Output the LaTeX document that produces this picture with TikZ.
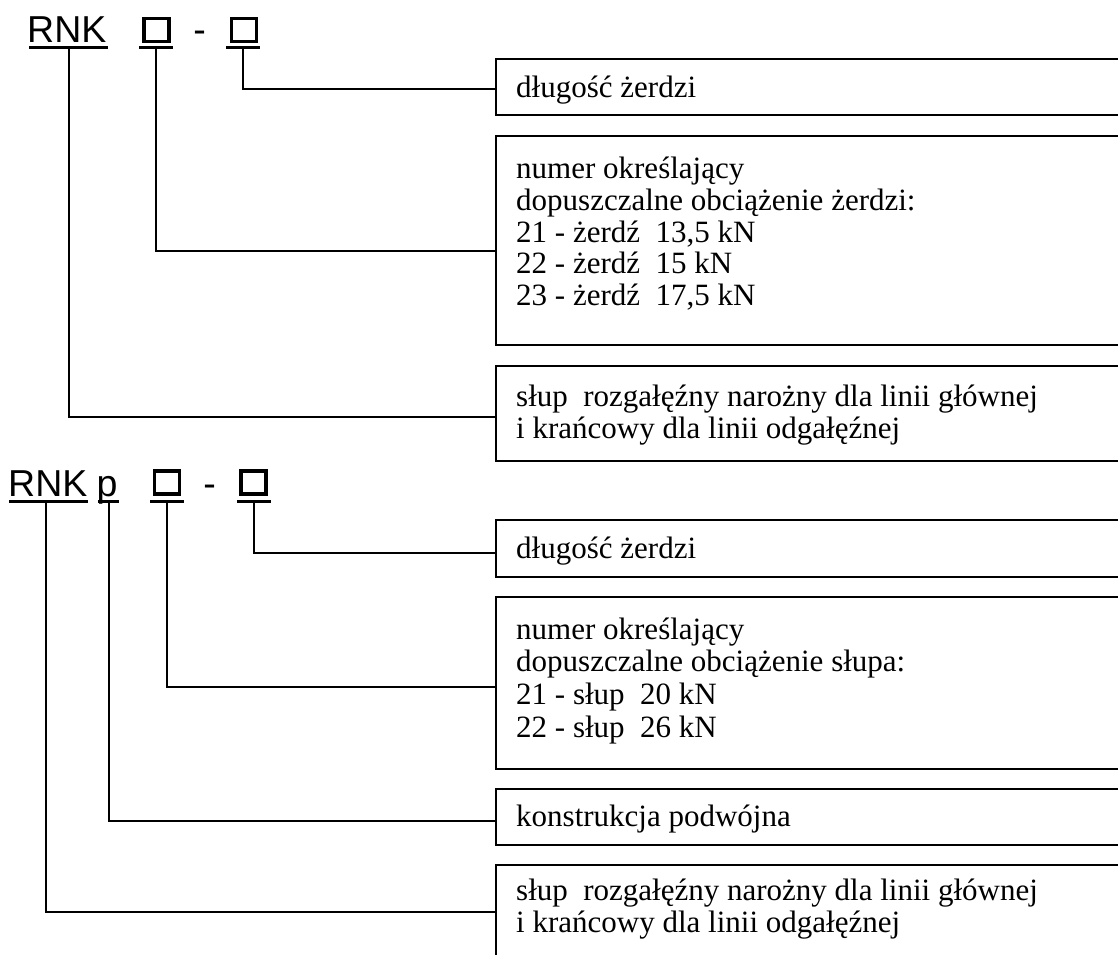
\documentclass[tikz,border=0pt]{standalone}
\usepackage{fontspec}
\setmainfont{Liberation Serif}
\newfontfamily\hdrfont{Liberation Sans}
\begin{document}
\begin{tikzpicture}[x=1pt,y=-1pt,
  box/.style={draw, line width=2.4pt, minimum width=640pt, inner sep=0pt, anchor=north west},
  txt/.style={font=\fontsize{31}{32}\selectfont, anchor=base west, inner sep=0pt},
  hdr/.style={font=\hdrfont\fontsize{37.5}{40}\selectfont, inner sep=0pt},
  sqbox/.style={draw, line width=3.2pt, minimum width=25pt, minimum height=23pt, inner sep=0pt},
  ul/.style={fill=black, minimum height=3pt, inner sep=0pt},
  conn/.style={line width=2pt}]
\useasboundingbox (0,0) rectangle (1118,954);

% ---------- top header ----------
\node[hdr, anchor=base west] (rnkA) at (27,42) {RNK};
\node[ul, minimum width=79pt] (uA0) at (68.5,47.5) {};
\node[sqbox] (sqA1) at (156.5,30) {};
\node[ul, minimum width=34pt] (uA1) at (156,47.5) {};
\node[hdr, anchor=base] (dashA) at (199.5,42) {-};
\node[sqbox] (sqA2) at (244,30) {};
\node[ul, minimum width=34pt] (uA2) at (243,47.5) {};

% ---------- top boxes ----------
\node[box, minimum height=56pt] (A1) at (495,58) {};
\node[box, minimum height=209pt] (A2) at (495,135) {};
\node[box, minimum height=95pt] (A3) at (495,365) {};

\node[txt] (A1t) at (516,97) {długość żerdzi};
\node[txt] (A2t1) at (516,178) {numer określający};
\node[txt] (A2t2) at (516,210) {dopuszczalne obciążenie żerdzi:};
\node[txt] (A2t3) at (516,242) {21 - żerdź\ \ 13,5 kN};
\node[txt] (A2t4) at (516,273.5) {22 - żerdź\ \ 15 kN};
\node[txt] (A2t5) at (516,305) {23 - żerdź\ \ 17,5 kN};
\node[txt] (A3t1) at (516,406) {słup\ \ rozgałęźny narożny dla linii głównej};
\node[txt] (A3t2) at (516,438) {i krańcowy dla linii odgałęźnej};

\draw[conn] (uA2) |- ([yshift=-2pt]A1.west);
\draw[conn] (uA1) |- ([yshift=-10.5pt]A2.west);
\draw[conn] (uA0) |- ([yshift=-3.5pt]A3.west);

% ---------- bottom header ----------
\node[hdr, anchor=base west] (rnkB) at (8,496) {RNK};
\node[ul, minimum width=79pt] (uB0) at (48.5,501.5) {};
\node[hdr, anchor=base west] (pB) at (96.5,496) {p};
\node[ul, minimum width=21pt] (uB1) at (108.5,501.5) {};
\node[sqbox] (sqB1) at (167,482.5) {};
\node[ul, minimum width=34pt] (uB2) at (167,501.5) {};
\node[hdr, anchor=base] (dashB) at (209.5,496) {-};
\node[sqbox] (sqB2) at (253.5,482.5) {};
\node[ul, minimum width=34pt] (uB3) at (254,501.5) {};

% ---------- bottom boxes ----------
\node[box, minimum height=57pt] (B1) at (495,519) {};
\node[box, minimum height=172pt] (B2) at (495,596) {};
\node[box, minimum height=56pt] (B3) at (495,788) {};
\node[box, minimum height=100pt] (B4) at (495,864) {};

\node[txt] (B1t) at (516,558) {długość żerdzi};
\node[txt] (B2t1) at (516,639) {numer określający};
\node[txt] (B2t2) at (516,671) {dopuszczalne obciążenie słupa:};
\node[txt] (B2t3) at (516,704) {21 - słup\ \ 20 kN};
\node[txt] (B2t4) at (516,737) {22 - słup\ \ 26 kN};
\node[txt] (B3t) at (516,826) {konstrukcja podwójna};
\node[txt] (B4t1) at (516,900) {słup\ \ rozgałęźny narożny dla linii głównej};
\node[txt] (B4t2) at (516,932) {i krańcowy dla linii odgałęźnej};

\draw[conn] (uB3) |- ([yshift=-4.5pt]B1.west);
\draw[conn] (uB2) |- ([yshift=-4pt]B2.west);
\draw[conn] (uB1) |- ([yshift=-4pt]B3.west);
\draw[conn] ([xshift=-2.5pt]uB0.center) |- ([yshift=3pt]B4.west);
\end{tikzpicture}
\end{document}
